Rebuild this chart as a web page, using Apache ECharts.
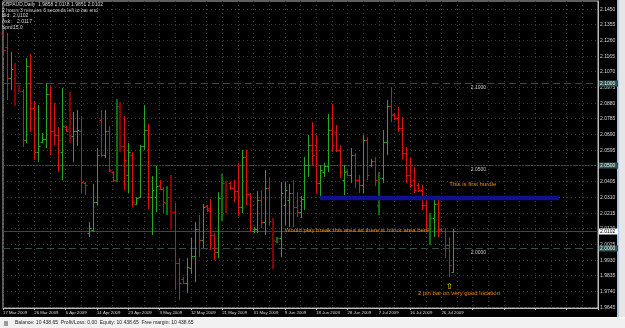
<!DOCTYPE html>
<html>
<head>
<meta charset="utf-8">
<script src="https://cdn.jsdelivr.net/npm/echarts@6/dist/echarts.min.js"></script>
<style>
  html, body { margin: 0; padding: 0; background: #000; }
  #chart { width: 625px; height: 328px; }
</style>
</head>
<body>
<div id="chart"></div>
<script>
// GBPAUD daily bars, 17 Mar 2009 .. 27 Jul 2009
const dateLabels = ['17 Mar 2009', '26 Mar 2009', '6 Apr 2009', '14 Apr 2009', '23 Apr 2009', '3 May 2009',
  '12 May 2009', '21 May 2009', '31 May 2009', '9 Jun 2009', '18 Jun 2009', '28 Jun 2009', '7 Jul 2009',
  '16 Jul 2009', '26 Jul 2009'];

const opens = [2.1296, 2.1217, 2.1030, 2.1084, 2.0981, 2.0951, 2.0654, 2.1102, 2.0848, 2.0581,
  2.0642, 2.0660, 2.0933, 2.0709, 2.0684, 2.0581, 2.0733, 2.0721, 2.0678, 2.0709,
  2.0709, 2.0394, 2.0091, 2.0109, 2.0279, 2.0775, 2.0563, 2.0709, 2.0460, 2.0412,
  2.0860, 2.0618, 2.0442, 2.0563, 2.0267, 2.0309, 2.0618, 2.0715, 2.0309, 2.0309,
  2.0376, 2.0357, 2.0273, 2.0309, 2.0218, 1.9909, 1.9812, 1.9788, 1.9879, 1.9952,
  2.0115, 2.0048, 2.0254, 2.0242, 2.0079, 1.9976, 2.0303, 2.0394, 2.0394, 2.0363,
  2.0345, 2.0248, 2.0551, 2.0327, 2.0103, 2.0115, 2.0291, 2.0157, 2.0363, 2.0164,
  2.0042, 2.0061, 2.0260, 2.0291, 2.0333, 2.0248, 2.0218, 2.0297, 2.0503, 2.0624,
  2.0624, 2.0394, 2.0460, 2.0497, 2.0715, 2.0703, 2.0594, 2.0412, 2.0466, 2.0442,
  2.0563, 2.0412, 2.0382, 2.0654, 2.0503, 2.0527, 2.0260, 2.0424, 2.0642, 2.0860,
  2.0812, 2.0787, 2.0727, 2.0575, 2.0442, 2.0412, 2.0382, 2.0351, 2.0260, 2.0121,
  2.0182, 2.0267, 2.0115, 2.0103, 2.0018, 1.9858];

const highs = [2.1314, 2.1302, 2.1187, 2.1121, 2.0987, 2.0963, 2.1151, 2.1175, 2.0890, 2.0866,
  2.0697, 2.0999, 2.0981, 2.0878, 2.0733, 2.0969, 2.0739, 2.0945, 2.0824, 2.0836,
  2.0800, 2.0400, 2.0157, 2.0388, 2.0606, 2.0836, 2.0836, 2.0739, 2.0466, 2.0902,
  2.0884, 2.0800, 2.0636, 2.0581, 2.0309, 2.0624, 2.0866, 2.0751, 2.0436, 2.0497,
  2.0412, 2.0369, 2.0376, 2.0442, 2.0273, 1.9939, 1.9824, 1.9939, 2.0061, 2.0157,
  2.0200, 2.0267, 2.0260, 2.0297, 2.0091, 2.0339, 2.0448, 2.0406, 2.0400, 2.0412,
  2.0515, 2.0594, 2.0594, 2.0333, 2.0127, 2.0345, 2.0351, 2.0472, 2.0424, 2.0182,
  2.0067, 2.0400, 2.0400, 2.0388, 2.0412, 2.0339, 2.0315, 2.0551, 2.0684, 2.0763,
  2.0684, 2.0503, 2.0515, 2.0812, 2.0872, 2.0745, 2.0624, 2.0503, 2.0472, 2.0606,
  2.0575, 2.0442, 2.0684, 2.0672, 2.0539, 2.0551, 2.0460, 2.0715, 2.0896, 2.0975,
  2.0818, 2.0854, 2.0793, 2.0612, 2.0551, 2.0491, 2.0394, 2.0382, 2.0321, 2.0212,
  2.0309, 2.0297, 2.0121, 2.0121, 2.0067, 2.0118];

const lows = [2.1163, 2.0896, 2.0957, 2.0860, 2.0945, 2.0612, 2.0636, 2.0703, 2.0533, 2.0521,
  2.0636, 2.0606, 2.0563, 2.0624, 2.0460, 2.0412, 2.0703, 2.0636, 2.0521, 2.0618,
  2.0333, 2.0321, 2.0067, 2.0097, 2.0260, 2.0551, 2.0545, 2.0460, 2.0400, 2.0400,
  2.0581, 2.0351, 2.0333, 2.0248, 2.0260, 2.0303, 2.0594, 2.0236, 2.0079, 2.0218,
  2.0351, 2.0212, 2.0200, 2.0109, 1.9746, 1.9685, 1.9782, 1.9727, 1.9843, 1.9794,
  1.9945, 2.0000, 2.0218, 1.9988, 1.9927, 1.9939, 2.0164, 2.0212, 2.0351, 2.0279,
  2.0194, 2.0212, 2.0260, 2.0097, 2.0091, 2.0091, 2.0121, 2.0079, 2.0139, 1.9873,
  2.0030, 1.9945, 2.0139, 2.0127, 2.0127, 2.0188, 2.0182, 2.0230, 2.0430, 2.0503,
  2.0333, 2.0309, 2.0430, 2.0460, 2.0581, 2.0581, 2.0424, 2.0321, 2.0436, 2.0394,
  2.0363, 2.0333, 2.0333, 2.0412, 2.0491, 2.0376, 2.0200, 2.0394, 2.0563, 2.0763,
  2.0775, 2.0703, 2.0539, 2.0394, 2.0363, 2.0333, 2.0339, 2.0230, 2.0109, 2.0018,
  2.0067, 2.0067, 2.0097, 1.9939, 1.9824, 1.9851];

const closes = [2.1199, 2.1030, 2.1084, 2.1048, 2.0951, 2.0654, 2.1102, 2.0848, 2.0581, 2.0618,
  2.0660, 2.0933, 2.0709, 2.0684, 2.0654, 2.0739, 2.0709, 2.0678, 2.0709, 2.0715,
  2.0400, 2.0382, 2.0121, 2.0279, 2.0563, 2.0563, 2.0709, 2.0472, 2.0412, 2.0860,
  2.0618, 2.0533, 2.0581, 2.0279, 2.0303, 2.0618, 2.0715, 2.0309, 2.0351, 2.0376,
  2.0357, 2.0279, 2.0309, 2.0218, 1.9909, 1.9788, 1.9788, 1.9885, 1.9952, 2.0115,
  2.0048, 2.0248, 2.0230, 2.0079, 1.9976, 2.0303, 2.0394, 2.0351, 2.0363, 2.0345,
  2.0248, 2.0551, 2.0327, 2.0121, 2.0115, 2.0291, 2.0157, 2.0363, 2.0164, 2.0048,
  2.0061, 2.0333, 2.0351, 2.0333, 2.0248, 2.0218, 2.0297, 2.0503, 2.0624, 2.0563,
  2.0394, 2.0472, 2.0497, 2.0715, 2.0624, 2.0594, 2.0460, 2.0460, 2.0442, 2.0563,
  2.0412, 2.0382, 2.0654, 2.0442, 2.0527, 2.0412, 2.0424, 2.0642, 2.0860, 2.0806,
  2.0787, 2.0727, 2.0575, 2.0442, 2.0382, 2.0351, 2.0351, 2.0260, 2.0139, 2.0182,
  2.0267, 2.0109, 2.0103, 2.0018, 1.9900, 2.0102];

// bars drawn thicker and darker in the terminal
const heavyBars = [3, 4, 17, 29, 30, 42, 43, 56, 57, 69, 70, 96, 109];

const priceTicks = ['2.1450', '2.1355', '2.1260', '2.1165', '2.1070', '2.0975', '2.0880', '2.0785', '2.0690',
  '2.0595', '2.0500', '2.0405', '2.0310', '2.0215', '2.0120', '2.0025', '1.9930', '1.9835', '1.9740', '1.9645'];

const levels = [2.1000, 2.0500, 2.0000];
const bidPrice = 2.0102;
// blue zone: from bar, to bar, top price, bottom price
const zone = [81, 142, 2.0317, 2.0289];

const noteTexts = ['Would play break this area as there is minor area here.', 'This is first hurdle',
  '2 pin bar on very good location', '\u21e7'];
const noteBars = [72, 114, 106, 114];
const notePrices = [2.0109, 2.0388, 1.9727, 1.9764];

const slotCount = 153;

const categories = [];
for (let i = 0; i < slotCount; i++) categories.push(String(i));
const barData = opens.map((o, i) => [i, o, highs[i], lows[i], closes[i]]);

const FONT = '"Liberation Sans", Arial, sans-serif';

function renderBar(params, api) {
  const i = api.value(0);
  const o = api.coord([i, api.value(1)]);
  const h = api.coord([i, api.value(2)]);
  const l = api.coord([i, api.value(3)]);
  const c = api.coord([i, api.value(4)]);
  const up = api.value(4) >= api.value(1);
  const heavy = heavyBars.indexOf(i) >= 0;
  const color = up ? (heavy ? '#0d6e0d' : '#25a825') : (heavy ? '#850000' : '#e01010');
  const x = heavy ? Math.round(o[0]) : Math.round(o[0]) + 0.5;
  const yo = Math.round(o[1]) + 0.5;
  const yc = Math.round(c[1]) + 0.5;
  return {
    type: 'group',
    children: [
      { type: 'line', shape: { x1: x, y1: h[1], x2: x, y2: l[1] }, style: { stroke: color, lineWidth: heavy ? 2 : 1 } },
      { type: 'line', shape: { x1: x - 2, y1: yo, x2: x, y2: yo }, style: { stroke: color, lineWidth: 1 } },
      { type: 'line', shape: { x1: x, y1: yc, x2: x + 2, y2: yc }, style: { stroke: color, lineWidth: 1 } }
    ]
  };
}

function renderTick(params, api) {
  const cs = params.coordSys;
  const y = Math.round(api.coord([0, api.value(1)])[1]) + 0.5;
  return {
    type: 'group',
    children: [
      { type: 'line', shape: { x1: cs.x, y1: y, x2: cs.x + cs.width, y2: y },
        style: { stroke: '#3a3a3a', lineWidth: 1, lineDash: [1, 3] } },
      { type: 'text', x: cs.x + cs.width + 2, y: y,
        style: { text: priceTicks[params.dataIndex], fill: '#d8d8d8', font: '5px ' + FONT, verticalAlign: 'middle' } }
    ]
  };
}

function renderLevel(params, api) {
  const cs = params.coordSys;
  const v = api.value(1);
  const y = Math.round(api.coord([0, v])[1]) + 0.5;
  const tx = api.coord([120, v])[0];
  const dotted = params.dataIndex === 1;
  return {
    type: 'group',
    children: [
      { type: 'line', shape: { x1: cs.x, y1: y, x2: cs.x + cs.width, y2: y },
        style: { stroke: dotted ? '#3d4848' : '#2f4f4f', lineWidth: 1, lineDash: dotted ? [2, 1] : [7, 4] } },
      { type: 'text', x: tx - 2, y: y + 2,
        style: { text: v.toFixed(4), fill: '#c8c8c8', font: '5px ' + FONT, verticalAlign: 'top' } },
      { type: 'rect', shape: { x: cs.x + cs.width + 1, y: y - 3, width: 19, height: 6 }, style: { fill: '#2f5252' } },
      { type: 'text', x: cs.x + cs.width + 2, y: y,
        style: { text: v.toFixed(4), fill: '#e8e8e8', font: '5px ' + FONT, verticalAlign: 'middle' } }
    ]
  };
}

function renderBid(params, api) {
  const cs = params.coordSys;
  const v = api.value(1);
  const y = Math.round(api.coord([0, v])[1]) + 0.5;
  return {
    type: 'group',
    children: [
      { type: 'line', shape: { x1: cs.x, y1: y, x2: cs.x + cs.width, y2: y }, style: { stroke: '#444', lineWidth: 1 } },
      { type: 'rect', shape: { x: cs.x + cs.width + 1, y: y - 3, width: 19, height: 6 }, style: { fill: '#fff' } },
      { type: 'text', x: cs.x + cs.width + 2, y: y,
        style: { text: v.toFixed(4), fill: '#000', font: '5px ' + FONT, verticalAlign: 'middle' } }
    ]
  };
}

function renderZone(params, api) {
  const a = api.coord([api.value(0), api.value(2)]);
  const b = api.coord([api.value(1), api.value(3)]);
  return {
    type: 'rect',
    shape: { x: a[0], y: a[1], width: b[0] - a[0], height: b[1] - a[1] },
    style: { fill: '#10108e' }
  };
}

function renderNote(params, api) {
  const p = api.coord([api.value(0), api.value(1)]);
  const k = params.dataIndex;
  const arrow = k === 3;
  return {
    type: 'text', x: p[0], y: p[1],
    style: {
      text: noteTexts[k],
      fill: arrow ? '#e6e600' : '#ea8c10',
      font: (arrow ? '8px "DejaVu Sans", ' : '6px ') + FONT,
      align: arrow ? 'center' : 'left',
      verticalAlign: 'middle'
    }
  };
}

const chart = echarts.init(document.getElementById('chart'), null, { renderer: 'canvas' });
chart.setOption({
  backgroundColor: '#000',
  animation: false,
  grid: { left: 0, right: 27, top: 1, bottom: 20, show: true, borderColor: '#bdbdbd', borderWidth: 1, backgroundColor: '#000' },
  xAxis: {
    type: 'category',
    data: categories,
    boundaryGap: false,
    axisLine: { lineStyle: { color: '#bdbdbd' } },
    axisTick: { show: true, interval: 7, length: 2, lineStyle: { color: '#bdbdbd' } },
    axisLabel: {
      interval: 7,
      align: 'left',
      margin: 3,
      color: '#d8d8d8',
      fontSize: 4.3,
      fontFamily: 'Liberation Sans',
      formatter: (v, idx) => dateLabels[idx / 8] || ''
    },
    splitLine: { show: true, interval: (idx) => idx % 4 === 0, lineStyle: { color: '#3a3a3a', type: [1, 3] } }
  },
  yAxis: {
    type: 'value',
    position: 'right',
    min: 1.9637,
    max: 2.1496,
    axisLine: { show: true, lineStyle: { color: '#bdbdbd' } },
    axisTick: { show: false },
    axisLabel: { show: false },
    splitLine: { show: false }
  },
  series: [
    { name: 'ticks', type: 'custom', z: 1, silent: true, renderItem: renderTick,
      encode: { x: 0, y: 1 }, data: priceTicks.map(t => [0, Number(t)]) },
    { name: 'levels', type: 'custom', z: 2, silent: true, renderItem: renderLevel,
      encode: { x: 0, y: 1 }, data: levels.map(v => [0, v]) },
    { name: 'bid', type: 'custom', z: 2, silent: true, renderItem: renderBid,
      encode: { x: 0, y: 1 }, data: [[0, bidPrice]] },
    { name: 'GBPAUD', type: 'custom', z: 3, silent: true, renderItem: renderBar,
      encode: { x: 0, y: [1, 2, 3, 4] }, data: barData },
    { name: 'zone', type: 'custom', z: 4, silent: true, renderItem: renderZone,
      encode: { x: [0, 1], y: [2, 3] }, data: [zone] },
    { name: 'notes', type: 'custom', z: 5, silent: true, renderItem: renderNote,
      encode: { x: 0, y: 1 }, data: noteBars.map((b, i) => [b, notePrices[i]]) }
  ],
  graphic: [
    { type: 'rect', left: 617, top: 0, shape: { width: 2, height: 318 }, style: { fill: '#a9c6e4' }, silent: true },
    { type: 'rect', left: 619, top: 0, shape: { width: 6, height: 318 }, style: { fill: '#e6e6e6' }, silent: true },
    { type: 'rect', left: 0, top: 317, shape: { width: 625, height: 11 }, style: { fill: '#f1f1f1' }, silent: true },
    { type: 'rect', left: 0, top: 317, shape: { width: 625, height: 1 }, style: { fill: '#ffffff' }, silent: true },
    { type: 'rect', left: 4, top: 321, shape: { width: 4, height: 5 }, style: { fill: '#9a9a9a' }, silent: true },
    { type: 'text', left: 15, top: 320.5, silent: true,
      style: { text: 'Balance: 10 438.65  Profit/Loss: 0.00  Equity: 10 438.65  Free margin: 10 438.65', fill: '#222', font: '5px ' + FONT } },
    { type: 'text', left: 2, top: 2.5, silent: true,
      style: { text: 'GBPAUD,Daily  1.9858 2.0118 1.9851 2.0102', fill: '#d8d8d8', font: '5px ' + FONT } },
    { type: 'text', left: 2, top: 8, silent: true,
      style: { text: '2 hours 3 minutes 6 seconds left to bar end', fill: '#d8d8d8', font: '5px ' + FONT } },
    { type: 'text', left: 2, top: 13.5, silent: true, style: { text: 'Bid:', fill: '#d8d8d8', font: '5px ' + FONT } },
    { type: 'text', left: 13, top: 13.5, silent: true, style: { text: '2.0102', fill: '#d8d8d8', font: '5px ' + FONT } },
    { type: 'text', left: 2, top: 19.5, silent: true, style: { text: 'Ask:', fill: '#d8d8d8', font: '5px ' + FONT } },
    { type: 'text', left: 17, top: 19.5, silent: true, style: { text: '2.0117', fill: '#d8d8d8', font: '5px ' + FONT } },
    { type: 'text', left: 2, top: 25.5, silent: true, style: { text: 'Sprd:', fill: '#d8d8d8', font: '5px ' + FONT } },
    { type: 'text', left: 13, top: 25.5, silent: true, style: { text: '15.0', fill: '#d8d8d8', font: '5px ' + FONT } }
  ]
});
</script>
</body>
</html>
